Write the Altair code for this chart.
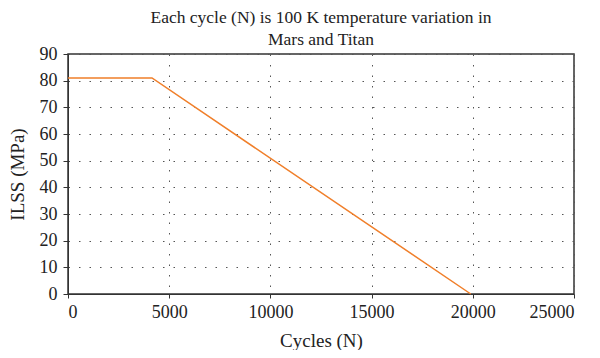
import altair as alt
import pandas as pd

cycles = [0, 4150, 19900]
ilss = [81, 81, 0]

df = pd.DataFrame({"cycles": cycles, "ilss": ilss})

FONT = "Liberation Serif"
GRAY = "#333333"

chart = alt.Chart(df).mark_line(color="#F07F2A", strokeWidth=1.5).encode(
    x=alt.X("cycles:Q", title="Cycles (N)",
            scale=alt.Scale(domain=[0, 25000], nice=False),
            axis=alt.Axis(values=[0, 5000, 10000, 15000, 20000, 25000], format="d",
                          labelFontSize=18, titleFontSize=19, labelFont=FONT, titleFont=FONT,
                          titleFontWeight="normal",
                          labelColor="#222", titleColor="#222", domainColor=GRAY, tickColor=GRAY,
                          tickSize=4, labelPadding=5, titlePadding=10,
                          grid=True, gridDash=[1.5, 9], gridColor="#555", gridWidth=1)),
    y=alt.Y("ilss:Q", title="ILSS (MPa)",
            scale=alt.Scale(domain=[0, 90], nice=False),
            axis=alt.Axis(values=list(range(0, 91, 10)),
                          labelFontSize=18, titleFontSize=19, labelFont=FONT, titleFont=FONT,
                          titleFontWeight="normal",
                          labelColor="#222", titleColor="#222", domainColor=GRAY, tickColor=GRAY,
                          tickSize=5, labelPadding=6, titlePadding=12,
                          grid=True, gridDash=[1.5, 9], gridColor="#555", gridWidth=1)),
).properties(
    width=506, height=240,
    title=alt.Title(["Each cycle (N) is 100 K temperature variation in", "Mars and Titan"],
                    fontSize=17.5, font=FONT, fontWeight="normal", color="#222",
                    anchor="middle", lineHeight=22, offset=-3),
    autosize=alt.AutoSizeParams(type="none"),
    padding={"left": 60, "top": 46, "right": 18, "bottom": 56},
).configure_view(stroke=GRAY, strokeWidth=1.5)

chart.save("out.html", embed_options={"renderer": "svg", "actions": False})
